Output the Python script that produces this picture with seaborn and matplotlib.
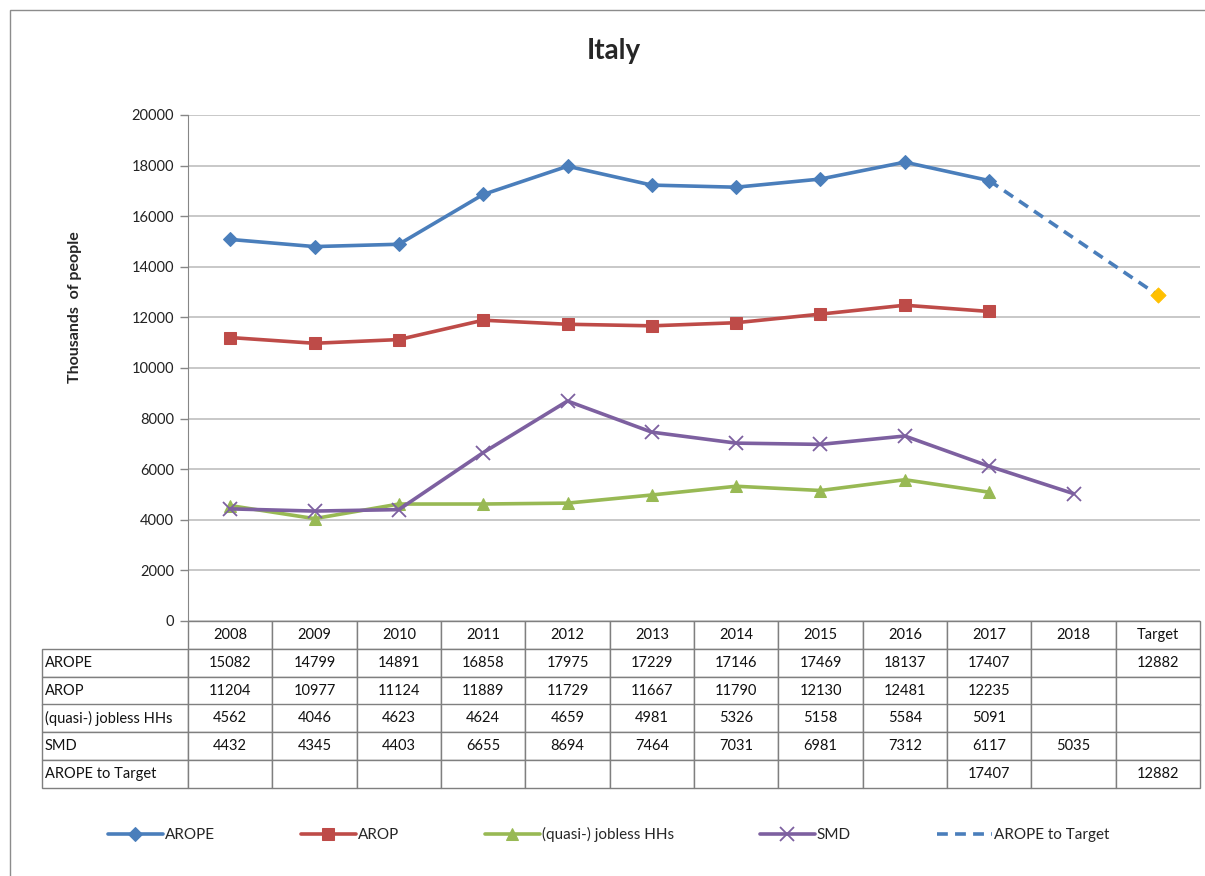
import numpy as np
import pandas as pd
import matplotlib.pyplot as plt
import seaborn as sns
from matplotlib.patches import Rectangle

categories = ['2008', '2009', '2010', '2011', '2012', '2013', '2014',
              '2015', '2016', '2017', '2018', 'Target']
arope = [15082, 14799, 14891, 16858, 17975, 17229, 17146, 17469, 18137, 17407, None, 12882]
arop = [11204, 10977, 11124, 11889, 11729, 11667, 11790, 12130, 12481, 12235, None, None]
jobless = [4562, 4046, 4623, 4624, 4659, 4981, 5326, 5158, 5584, 5091, None, None]
smd = [4432, 4345, 4403, 6655, 8694, 7464, 7031, 6981, 7312, 6117, 5035, None]
arope_target = [None, None, None, None, None, None, None, None, None, 17407, None, 12882]

series_names = ['AROPE', 'AROP', '(quasi-) jobless HHs', 'SMD', 'AROPE to Target']
series_values = [arope, arop, jobless, smd, arope_target]

colors = {'AROPE': '#4A7EBB', 'AROP': '#BE4B48', '(quasi-) jobless HHs': '#98B954',
          'SMD': '#7D60A0', 'AROPE to Target': '#4A7EBB'}

sns.set_style('white')
plt.rcParams['font.family'] = ['Lato', 'DejaVu Sans']

fig = plt.figure(figsize=(12.05, 8.76), dpi=100)
ax = fig.add_axes([188 / 1205, 1 - 621 / 876, 1012 / 1205, 506 / 876])

# solid series (Excel leaves a gap at empty cells, so plot the first run only)
def first_run(vals):
    xs, ys = [], []
    for i, v in enumerate(vals):
        if v is None:
            if xs:
                break
            continue
        xs.append(i)
        ys.append(v)
    return xs, ys

styles = {
    'AROPE': dict(marker='D', markersize=7.5),
    'AROP': dict(marker='s', markersize=9),
    '(quasi-) jobless HHs': dict(marker='^', markersize=9),
    'SMD': dict(marker='x', markersize=10, markeredgewidth=1.3),
}

for name, vals in zip(series_names[:4], series_values[:4]):
    xs, ys = first_run(vals)
    c = colors[name]
    sns.lineplot(x=xs, y=ys, ax=ax, color=c, linewidth=2.6, label=name,
                 markeredgecolor=c, markerfacecolor=c, **styles[name])

# dashed projection towards target
tx = [i for i, v in enumerate(arope_target) if v is not None]
ty = [v for v in arope_target if v is not None]
sns.lineplot(x=tx, y=ty, ax=ax, color=colors['AROPE to Target'], linewidth=2.6,
             linestyle=(0, (3, 2)), label='AROPE to Target')

# target point of AROPE drawn as golden diamond
sns.scatterplot(x=[11], y=[arope[11]], ax=ax, color='#FFC000', marker='D', s=60,
                edgecolor='#FFC000', zorder=5)

ax.set_xlim(-0.5, len(categories) - 0.5)
ax.set_ylim(0, 20000)
ax.set_yticks(np.arange(0, 20001, 2000))
ax.set_yticklabels([str(v) for v in range(0, 20001, 2000)], fontsize=10.5, color='#222222')
ax.set_xticks([])
ax.yaxis.grid(True, color='#BFBFBF', linewidth=1.2)
ax.tick_params(axis='y', which='both', left=True, length=6, width=1, color='#868686', pad=4)
for s in ['top', 'right', 'bottom']:
    ax.spines[s].set_visible(False)
ax.spines['left'].set_color('#868686')
ax.set_ylabel('Thousands  of people', fontsize=11.5, fontweight='bold')
ax.yaxis.set_label_coords(-0.105, 0.62)
ax.set_xlabel('')

# data table below the plot
def fmt(v):
    return '' if v is None else str(v)

cell_text = [[name] + [fmt(v) for v in vals] for name, vals in zip(series_names, series_values)]
col_labels = [''] + categories
label_w = 146
col_w = 1012 / 12
widths = [label_w] + [col_w] * 12
total_w = sum(widths)
tbl = ax.table(cellText=cell_text, colLabels=col_labels, colWidths=[w / total_w for w in widths],
               cellLoc='center', bbox=[-label_w / 1012, -167 / 506, total_w / 1012, 167 / 506])
tbl.auto_set_font_size(False)
for (r, c), cell in tbl.get_celld().items():
    cell.set_edgecolor('#7F7F7F')
    cell.set_linewidth(1)
    cell.set_text_props(fontsize=10.5, color='#111111')
    if c == 0:
        cell.set_text_props(ha='left')
        cell._loc = 'left'
        cell.PAD = 0.02
    if r == 0 and c == 0:
        cell.visible_edges = ''

ax.get_legend().remove()
handles, labels = ax.get_legend_handles_labels()
fig.legend(handles[:5], labels[:5], loc='center', bbox_to_anchor=(0.505, 0.047), ncol=5,
           frameon=False, fontsize=11, handlelength=3.6, columnspacing=5.6, handletextpad=0.15)

fig.text(0.509, 0.942, 'Italy', ha='center', va='center', fontsize=20, fontweight='bold')

# outer chart border
fig.patches.append(Rectangle((10 / 1205, -0.05), 1.2, 1 - 10 / 876 + 0.05, transform=fig.transFigure,
                             fill=False, edgecolor='#8C8C8C', linewidth=1))

fig.savefig('out.png', dpi=100)
